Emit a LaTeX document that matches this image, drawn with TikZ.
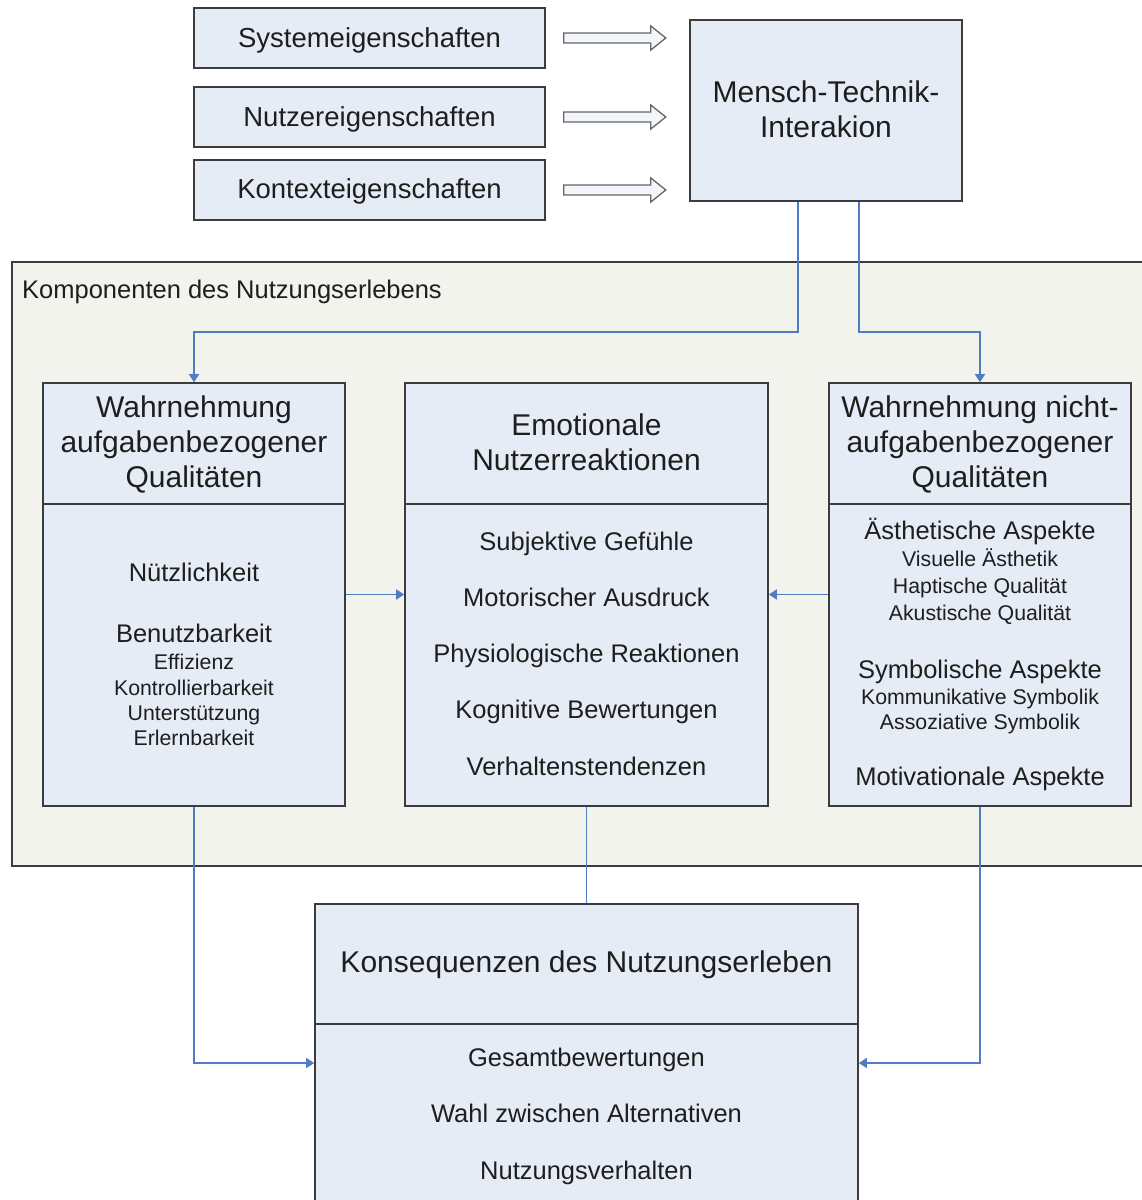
\documentclass[tikz,border=0pt]{standalone}
\usepackage{fontspec}
\setmainfont{Liberation Sans}
\usetikzlibrary{arrows.meta}
\definecolor{boxfill}{HTML}{E6ECF6}
\definecolor{contfill}{HTML}{F2F3ED}
\definecolor{edgecol}{HTML}{3C3C3C}
\definecolor{conncol}{HTML}{4F7CC4}
\definecolor{txt}{HTML}{1E1E1E}
\begin{document}
\begin{tikzpicture}[x=1pt,y=-1pt,
 box/.style={draw=edgecol, line width=1.6pt, fill=boxfill, inner sep=0pt},
 lbl/.style={text=txt, inner sep=0pt, align=center, anchor=base},
 bigf/.style={lbl, font=\fontsize{30}{35}\selectfont},
 midf/.style={lbl, font=\fontsize{25.5}{30}\selectfont},
 smallf/.style={lbl, font=\fontsize{21.3}{25.3}\selectfont},
 topf/.style={lbl, font=\fontsize{27.5}{32}\selectfont},
 link/.style={draw=conncol, line width=1.8pt, -{Triangle[width=10pt,length=8pt]}},
 plainlink/.style={draw=conncol, line width=1.8pt},
 barrow/.style={draw=black!60, fill=boxfill!50!white, line width=1.3pt, line join=miter},
 divider/.style={draw=edgecol, line width=1.6pt},
 ]
\useasboundingbox (0,0) rectangle (1142,1200);
\fill[white] (0,0) rectangle (1142,1200);

% top input boxes
\node[box, minimum width=351, minimum height=60] (sys) at (369.5,38) {};
\node[topf] (syst) at (369.5,47.8) {Systemeigenschaften};
\node[box, minimum width=351, minimum height=60] (nut) at (369.5,117) {};
\node[topf] (nutt) at (369.5,126.8) {Nutzereigenschaften};
\node[box, minimum width=351, minimum height=60] (kon) at (369.5,190) {};
\node[topf] (kont) at (369.5,198.8) {Kontexteigenschaften};

\node[box, minimum width=272, minimum height=181] (mti) at (826,110.5) {};
\node[bigf] (mtit) at (826,137.7) {Mensch-Technik-\\Interakion};

% block arrows
\foreach \b in {sys,nut,kon}
  \draw[barrow] ([xshift=18pt,yshift=5pt]\b.east) -- ++(87,0) -- ++(0,-7) -- ++(15,12) -- ++(-15,12) -- ++(0,-7) -- ++(-87,0) -- cycle;

% container
\draw[draw=edgecol, fill=contfill, line width=1.6pt] (12,262) rectangle (1160,866);
\node[midf, anchor=base west] (komp) at (22,298.1) {Komponenten des Nutzungserlebens};

% left box
\node[box, minimum width=302, minimum height=423] (wl) at (194,594.5) {};
\draw[divider] (43,504) -- (345,504);
\node[bigf] (wlh) at (194,487.7) {Wahrnehmung\\aufgabenbezogener\\Qualitäten};
\node[midf] (wl1) at (194,581.1) {Nützlichkeit};
\node[midf] (wl2) at (194,642.1) {Benutzbarkeit};
\node[smallf] (wl3) at (194,745.6) {Effizienz\\Kontrollierbarkeit\\Unterstützung\\Erlernbarkeit};

% middle box
\node[box, minimum width=363, minimum height=423] (mid) at (586.5,594.5) {};
\draw[divider] (405,504) -- (768,504);
\node[bigf] (midh) at (586.5,470.7) {Emotionale\\Nutzerreaktionen};
\node[midf, font=\fontsize{25.5}{56.25}\selectfont] (mid1) at (586.5,775.1) {Subjektive Gefühle\\Motorischer Ausdruck\\Physiologische Reaktionen\\Kognitive Bewertungen\\Verhaltenstendenzen};

% right box
\node[box, minimum width=302, minimum height=423] (wr) at (980,594.5) {};
\draw[divider] (829,504) -- (1131,504);
\node[bigf] (wrh) at (980,487.7) {Wahrnehmung nicht-\\aufgabenbezogener\\Qualitäten};
\node[midf] (wr1) at (980,539.1) {Ästhetische Aspekte};
\node[smallf, font=\fontsize{21.3}{27}\selectfont] (wr2) at (980,620.6) {Visuelle Ästhetik\\Haptische Qualität\\Akustische Qualität};
\node[midf] (wr3) at (980,678.1) {Symbolische Aspekte};
\node[smallf, font=\fontsize{21.3}{25}\selectfont] (wr4) at (980,729.6) {Kommunikative Symbolik\\Assoziative Symbolik};
\node[midf] (wr5) at (980,785.1) {Motivationale Aspekte};

% bottom box
\node[box, minimum width=543, minimum height=302] (kons) at (586.5,1055) {};
\draw[divider] (315,1024) -- (858,1024);
\node[bigf] (konsh) at (586.5,972.7) {Konsequenzen des Nutzungserleben};
\node[midf, font=\fontsize{25.5}{56.5}\selectfont] (kons1) at (586.5,1179.1) {Gesamtbewertungen\\Wahl zwischen Alternativen\\Nutzungsverhalten};

% connectors
\coordinate (xa) at (798,0);
\coordinate (xb) at (859,0);
\coordinate (ymid) at (0,332);
\coordinate (ylow) at (0,1063);
\draw[link] (mti.south -| xa) -- (xa |- ymid) -| (wl.north);
\draw[link] (mti.south -| xb) -- (xb |- ymid) -| (wr.north);
\draw[link] (wl.east) -- (mid.west);
\draw[link] (wr.west) -- (mid.east);
\draw[link] (wl.south) |- (kons.west |- ylow);
\draw[link] (wr.south) |- (kons.east |- ylow);
\draw[plainlink] (mid.south) -- (kons.north);
\end{tikzpicture}
\end{document}
